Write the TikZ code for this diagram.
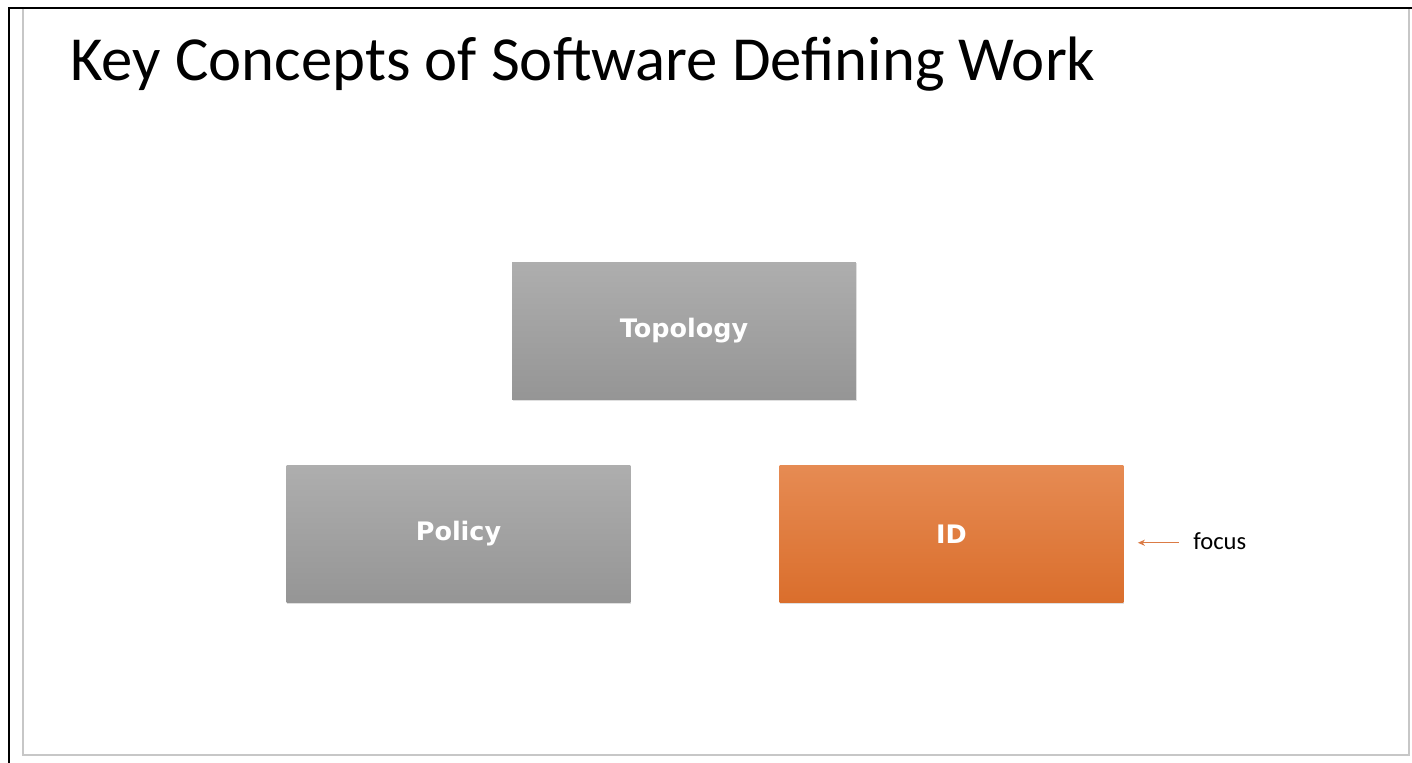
\documentclass[tikz,border=0pt]{standalone}
\usepackage{fontspec}
\setmainfont{Carlito}
\newfontfamily\boxfont{DejaVu Sans}
\usetikzlibrary{shadows,arrows.meta}
\definecolor{grayTop}{HTML}{AEAEAE}
\definecolor{grayBot}{HTML}{959595}
\definecolor{orangeTop}{HTML}{E68B53}
\definecolor{orangeBot}{HTML}{DA6E2C}
\definecolor{arrowOrange}{HTML}{DB7B45}
\tikzset{
  concept/.style={minimum width=6.88cm,minimum height=2.76cm,inner sep=0pt,
    text=white,font=\boxfont\bfseries\fontsize{14.5}{17}\selectfont,
    drop shadow={opacity=0.25,shadow xshift=0.4pt,shadow yshift=-0.8pt}},
  grayconcept/.style={concept,top color=grayTop,bottom color=grayBot},
  focusconcept/.style={concept,top color=orangeTop,bottom color=orangeBot},
  focusarrow/.style={draw=arrowOrange,line width=0.5pt,-{Stealth[length=4pt,width=3.5pt]}}
}
\begin{document}
\begin{tikzpicture}[x=0.02cm,y=-0.02cm]
\useasboundingbox (0,0) rectangle (1412,763);
            % Frame
\fill[white] (0,0) rectangle (1412,763);
\draw[black,line width=1.5pt] (9,763) -- (9,8) -- (1412,8);
\draw[black!22,line width=0.6pt] (23,9) -- (23,755) -- (1409,755) -- (1409,9);
            % Title
\node[anchor=base west,inner sep=0pt,font=\fontsize{35.7}{40}\selectfont] (title) at (70,81) {Key Concepts of Software Defining Work};
            % Concepts
\node[grayconcept]  (topology) at (684,331) {Topology};
\node[grayconcept]  (policy)   at (458.5,534) {Policy};
\node[focusconcept] (id)       at (951.5,534) {ID};
            % Focus
\node[anchor=west,inner sep=0pt,font=\fontsize{14}{16}\selectfont] (focus) at (1193,541) {focus};
\draw[focusarrow,shorten >=8pt] ([xshift=-8pt,yshift=-1pt]focus.west) -- ([yshift=-1pt]focus.west -| id.east);
\end{tikzpicture}
\end{document}
